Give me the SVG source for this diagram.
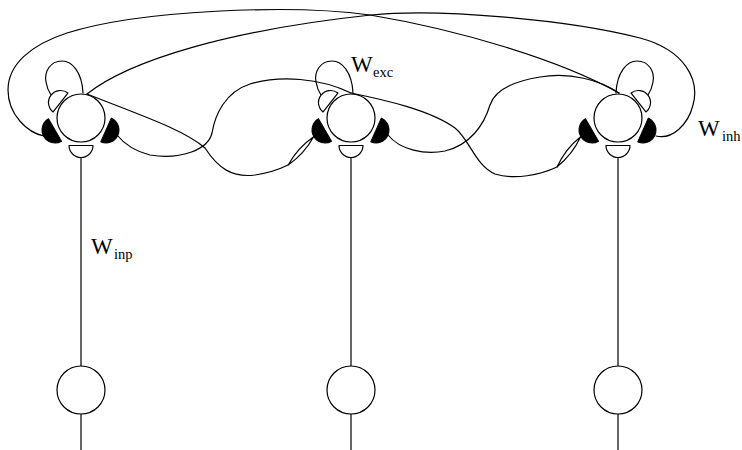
<svg xmlns="http://www.w3.org/2000/svg" width="742" height="450" viewBox="0 0 742 450">
  <style>
    .ln { fill: none; stroke: #000; stroke-width: 1.2; stroke-linecap: round; stroke-linejoin: round; }
    .cell { fill: #fff; stroke: #000; stroke-width: 1.2; }
    .exc { fill: #fff; stroke: #000; stroke-width: 1.2; stroke-linejoin: round; }
    .inh { fill: #000; stroke: #000; stroke-width: 1; stroke-linejoin: round; }
    .lbl { font-family: "Liberation Serif", "Times New Roman", serif; fill: #000; }
  </style>
  <defs>
    <!-- half-disc synapse terminal: flat side on the y axis, bulging towards +x -->
    <path id="half" d="M 0 -13 A 13 13 0 0 1 0 13 Z"/>
    <path id="halfS" d="M 0 -12 A 12 12 0 0 1 0 12 Z"/>
    <!-- thin leaf marking the end of a long projection -->
    <path id="leaf" d="M -19 0 Q 0 -4.5 19 0 Q 0 4.5 -19 0 Z"/>
    <!-- recurrent self-excitation loop, ending on the upper-left terminal -->
    <path id="selfLoop" d="M 2 -25 C 1 -46 -9 -57 -19 -57 C -31 -57 -37 -46 -35 -36 C -34 -30 -32 -26 -30 -23"/>
  </defs>

  <!-- connections between the three units -->
  <g id="connectors">
    <!-- unit 1 -> unit 3 (right inhibitory terminal) -->
    <path class="ln" d="M 87 94 C 130 60 230 30 371 15 C 440 8 570 20 640 38 C 685 50 700 80 693 105 C 688 125 672 140 656 136"/>
    <!-- unit 3 -> unit 1 (left inhibitory terminal) -->
    <path class="ln" d="M 619 93 C 560 60 460 30 370 15 C 290 4 140 10 67 33 C 30 45 8 65 8 90 C 8 115 28 133 44 136"/>
    <!-- unit 1 -> unit 2 (left inhibitory terminal) -->
    <path class="ln" d="M 87 94 C 140 115 185 130 205 148 C 218 168 232 178 255 175 C 268 173 278 170 288 165"/>
    <use href="#leaf" class="exc" transform="translate(300.9 150.8) rotate(-48)"/>
    <!-- unit 2 -> unit 1 (right inhibitory terminal) -->
    <path class="ln" d="M 351 93 C 320 78 280 75 250 84 C 225 92 215 115 212 133 C 208 150 180 160 150 155 C 138 152 125 145 117 135"/>
    <!-- unit 2 -> unit 3 (left inhibitory terminal) -->
    <path class="ln" d="M 351 93 C 385 100 430 110 455 128 C 470 140 475 165 495 174 C 515 180 540 175 557 167"/>
    <use href="#leaf" class="exc" transform="translate(568.9 151.8) rotate(-52)"/>
    <!-- unit 3 -> unit 2 (right inhibitory terminal) -->
    <path class="ln" d="M 619 93 C 600 80 570 72 540 77 C 515 81 495 90 490 105 C 484 125 470 145 445 151 C 425 155 400 150 388 135"/>
    <!-- input lines -->
    <line class="ln" x1="81" y1="157" x2="81" y2="366"/>
    <line class="ln" x1="81" y1="414" x2="81" y2="450"/>
    <line class="ln" x1="351" y1="157" x2="351" y2="366"/>
    <line class="ln" x1="351" y1="414" x2="351" y2="450"/>
    <line class="ln" x1="618" y1="157" x2="618" y2="366"/>
    <line class="ln" x1="618" y1="414" x2="618" y2="450"/>
  </g>

  <!-- output units -->
  <g id="unit1" transform="translate(81 118)">
    <use href="#selfLoop" class="ln"/>
    <circle class="cell" cx="0" cy="0" r="24"/>
    <use href="#halfS" class="exc" transform="translate(-20.5 -15.5) rotate(218)"/>
    <use href="#half" class="inh" transform="translate(-26 12) rotate(150)"/>
    <use href="#half" class="inh" transform="translate(25 12) rotate(24)"/>
    <use href="#halfS" class="exc" transform="translate(0 27.5) rotate(90)"/>
  </g>
  <g id="unit2" transform="translate(351 118)">
    <use href="#selfLoop" class="ln"/>
    <circle class="cell" cx="0" cy="0" r="24"/>
    <use href="#halfS" class="exc" transform="translate(-20.5 -15.5) rotate(218)"/>
    <use href="#half" class="inh" transform="translate(-26 12) rotate(150)"/>
    <use href="#half" class="inh" transform="translate(25 12) rotate(24)"/>
    <use href="#halfS" class="exc" transform="translate(0 27.5) rotate(90)"/>
  </g>
  <g id="unit3" transform="translate(618 118)">
    <g transform="scale(-1 1)">
      <use href="#selfLoop" class="ln"/>
    </g>
    <circle class="cell" cx="0" cy="0" r="24"/>
    <use href="#halfS" class="exc" transform="translate(20.5 -15.5) rotate(-38)"/>
    <use href="#half" class="inh" transform="translate(-26 12) rotate(150)"/>
    <use href="#half" class="inh" transform="translate(25 12) rotate(24)"/>
    <use href="#halfS" class="exc" transform="translate(0 27.5) rotate(90)"/>
  </g>

  <!-- input units -->
  <g id="input1"><circle class="cell" cx="81" cy="390" r="24"/></g>
  <g id="input2"><circle class="cell" cx="351" cy="390" r="24"/></g>
  <g id="input3"><circle class="cell" cx="618" cy="390" r="24"/></g>

  <!-- weight labels -->
  <g id="labels">
    <text class="lbl" x="351" y="72" font-size="23">W<tspan x="373" y="77" font-size="14.5">exc</tspan></text>
    <text class="lbl" x="698" y="136" font-size="23">W<tspan x="722" y="141" font-size="14.5">inh</tspan></text>
    <text class="lbl" x="91" y="254" font-size="23">W<tspan x="114" y="259" font-size="14.5">inp</tspan></text>
  </g>
</svg>
